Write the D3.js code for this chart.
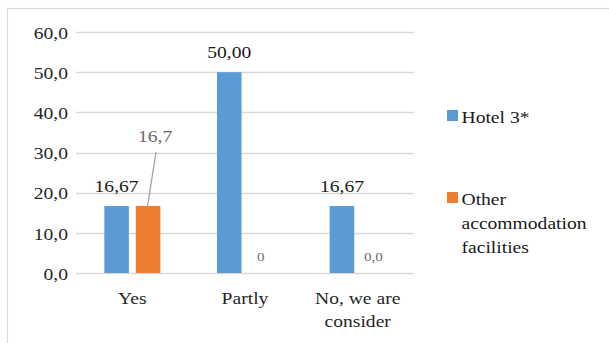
<!DOCTYPE html>
<html>
<head>
<meta charset="utf-8">
<script src="https://cdn.jsdelivr.net/npm/d3@7/dist/d3.min.js"></script>
<style>
  html, body { margin: 0; padding: 0; background: #fff; }
  svg { display: block; }
  #chart text { font-family: "Liberation Serif", Tinos, "Times New Roman", serif !important; }
</style>
</head>
<body>
<svg id="chart" width="609" height="343" font-family="Liberation Serif"></svg>
<script>
// Survey answers per category
const categories = ["Yes", "Partly", "No, we are consider"];
const seriesNames = ["Hotel 3*", "Other accommodation facilities"];
const hotelValues = [16.67, 50.00, 16.67];
const otherValues = [16.7, 0, 0];
const hotelLabels = ["16,67", "50,00", "16,67"];
const otherLabels = ["16,7", "0", "0,0"];
const yTicks = [0, 10, 20, 30, 40, 50, 60];

const colors = ["#5B9BD5", "#ED7D31"];
const FS = 17.5;      // text size
const SX = 1.12;      // text is drawn slightly wide

const svg = d3.select("#chart");
const W = 609, H = 343;

// helper: text anchored at (x, y), widened horizontally
function label(parent, x, y, str, opts = {}) {
  return parent.append("text")
    .attr("transform", `translate(${x},${y}) scale(${SX},1)`)
    .attr("text-anchor", opts.anchor || "middle")
    .attr("font-family", "Liberation Serif")
    .attr("font-size", opts.size || FS)
    .attr("fill", opts.fill || "#262626")
    .text(str);
}

// outer frame
svg.append("rect")
  .attr("x", 7.5).attr("y", 8.5)
  .attr("width", W).attr("height", H)
  .attr("fill", "none").attr("stroke", "#d9d9d9").attr("stroke-width", 1.2);

const plot = { left: 76, right: 414, top: 32, bottom: 273 };

const x = d3.scaleBand().domain(categories).range([plot.left, plot.right]);
const xi = d3.scaleBand().domain([0, 1]).range([0, x.bandwidth()]).paddingInner(0.22).paddingOuter(0.9);
const y = d3.scaleLinear().domain([0, 60]).range([plot.bottom, plot.top]);

// gridlines
svg.append("g")
  .selectAll("line").data(yTicks).join("line")
  .attr("x1", plot.left).attr("x2", plot.right)
  .attr("y1", d => Math.round(y(d)) + 0.5).attr("y2", d => Math.round(y(d)) + 0.5)
  .attr("stroke", "#d9d9d9").attr("stroke-width", 1.3);

// y axis labels
const fmt = d => d.toFixed(1).replace(".", ",");
const yAxis = d3.axisLeft(y).tickValues(yTicks).tickFormat(fmt).tickSize(0).tickPadding(8);
const ya = svg.append("g").attr("transform", `translate(${plot.left},0)`).call(yAxis);
ya.select(".domain").remove();
ya.attr("font-family", "Liberation Serif").attr("font-size", FS);
ya.selectAll("text")
  .attr("x", -8 / SX)
  .attr("dy", "0.36em")
  .attr("transform", `scale(${SX},1)`)
  .attr("font-family", "Liberation Serif")
  .attr("font-size", FS)
  .attr("fill", "#262626");

// bars
[hotelValues, otherValues].forEach((vals, s) => {
  svg.append("g").selectAll("rect").data(vals).join("rect")
    .attr("x", (d, i) => x(categories[i]) + xi(s))
    .attr("width", xi.bandwidth())
    .attr("y", d => y(d))
    .attr("height", d => y(0) - y(d))
    .attr("fill", colors[s]);
});

// Hotel 3* value labels above bars
hotelValues.forEach((d, i) => {
  const cx = x(categories[i]) + xi(0) + xi.bandwidth() / 2;
  label(svg, cx, y(d) - 14, hotelLabels[i], { fill: "#1a1a1a" });
});

// Other facilities value labels
otherValues.forEach((d, i) => {
  const cx = x(categories[i]) + xi(1) + xi.bandwidth() / 2;
  if (d > 0) {
    // label lifted off the bar with a leader line
    const lx = cx + 7, ly = y(d) - 64;
    svg.append("line")
      .attr("x1", lx + 1).attr("y1", ly + 10)
      .attr("x2", cx - 0.5).attr("y2", y(d))
      .attr("stroke", "#a6a6a6").attr("stroke-width", 1.3);
    label(svg, lx, ly, otherLabels[i], { fill: "#6b6b6b" });
  } else {
    label(svg, cx, y(d) - 12, otherLabels[i], { fill: "#6b6b6b", size: 13.5 });
  }
});

// category labels
const catLines = [["Yes"], ["Partly"], ["No, we are", "consider"]];
categories.forEach((c, i) => {
  const cx = x(c) + x.bandwidth() / 2;
  catLines[i].forEach((ln, k) => label(svg, cx, 304 + k * 23, ln));
});

// legend
const legendLines = [["Hotel 3*"], ["Other", "accommodation", "facilities"]];
const legendY = [115, 197];
legendLines.forEach((lines, s) => {
  svg.append("rect")
    .attr("x", 447).attr("y", legendY[s] - 5)
    .attr("width", 11).attr("height", 11)
    .attr("fill", colors[s]);
  lines.forEach((ln, k) =>
    label(svg, 461.5, legendY[s] + 7.5 + k * 24, ln, { anchor: "start", fill: "#1a1a1a" }));
});
</script>
</body>
</html>
